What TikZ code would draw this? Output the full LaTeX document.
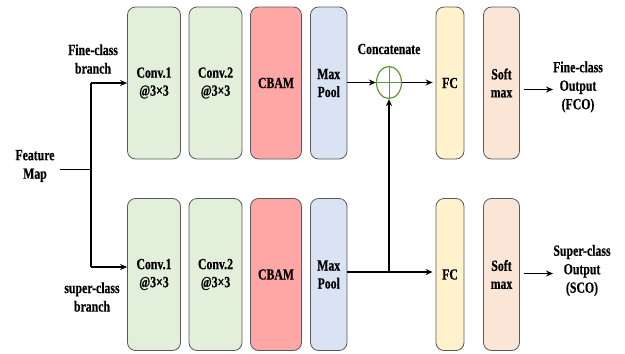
\documentclass[tikz,border=0pt]{standalone}
\usepackage{fontspec}
\setmainfont{Liberation Serif}[BoldFeatures={FakeStretch=0.76,FakeBold=0.5}]
\usetikzlibrary{arrows.meta,shapes.geometric}
\definecolor{convg}{HTML}{E2EFDA}
\definecolor{cbamr}{HTML}{FFA7A7}
\definecolor{poolb}{HTML}{DAE3F3}
\definecolor{fcy}{HTML}{FFF2CC}
\definecolor{smx}{HTML}{FBE5D6}
\definecolor{bord}{HTML}{595959}
\definecolor{catg}{HTML}{5E9A3C}
\tikzset{
  blk/.style={draw=bord, line width=0.8pt, rounded corners=8pt, inner sep=0pt,
    font=\fontsize{15.5}{18}\selectfont\bfseries, align=center},
  lbl/.style={font=\fontsize{15.5}{18.5}\selectfont\bfseries, align=center, inner sep=0pt},
  arr/.style={line width=1.8pt, -{Stealth[length=7pt,width=6pt]}},
  ln/.style={line width=1.8pt},
}
\begin{document}
\begin{tikzpicture}[x=1pt,y=-1pt]
\useasboundingbox (0,0) rectangle (625,354);
% top and bottom rows
\foreach \n/\xa/\xb/\c/\t in {c1/127.5/180.5/convg/{Conv.1\\@3×3}, c2/189/242/convg/{Conv.2\\@3×3}, cb/250.5/301.5/cbamr/CBAM, mp/310.5/347/poolb/{Max\\Pool}, fc/436/464/fcy/FC, sm/483.5/519.5/smx/{Soft\\max}}{
  \node[blk, fill=\c, minimum width={\xb-\xa}, minimum height=152] (t\n) at ({(\xa+\xb)/2},83) {\t};
  \node[blk, fill=\c, minimum width={\xb-\xa}, minimum height=152] (b\n) at ({(\xa+\xb)/2},274.5) {\t};
}
% concat
\node[ellipse, draw=catg, line width=1.2pt, fill=white, minimum width=25, minimum height=32, inner sep=0pt] (cat) at (389,82.5) {};
\draw[catg, line width=1pt] (cat.north) -- (cat.south) (cat.west) -- (cat.east);
\node[lbl] (catl) at (389,49) {Concatenate};
% labels
\node[lbl] (fm) at (35,166) {Feature\\Map};
\node[lbl] (fb) at (93,59) {Fine-class\\branch};
\node[lbl] (sb) at (92,297) {super-class\\branch};
\node[lbl] (fo) at (578,87) {Fine-class\\Output\\(FCO)};
\node[lbl] (so) at (582,270.5) {Super-class\\Output\\(SCO)};
% coordinates
\coordinate (fmr) at (60,169.5);
\coordinate (j) at (91,169.5);
\coordinate (jt) at (91,83);
\coordinate (jb) at (91,267);
\coordinate (bj) at (389,272);
% connectors
\draw[ln] (fmr) -- (j);
\draw[ln] (jt) -- (jb);
\draw[arr] (jt) -- (tc1.west |- jt);
\draw[arr] (jb) -- (bc1.west |- jb);
\draw[arr] (tmp.east |- cat) -- (cat.west);
\draw[arr] (cat.east) -- ([xshift=-3pt]tfc.west |- cat);
\draw[ln] (bmp.east |- bj) -- (bj);
\draw[arr] (bj) -- ([xshift=-3pt]bfc.west |- bj);
\draw[arr] (bj) -- (cat.south);
\draw[arr] ([xshift=4pt]tsm.east |- 0,89.5) -- (553,89.5);
\draw[arr] ([xshift=4pt]bsm.east |- 0,273.5) -- (553,273.5);
\end{tikzpicture}
\end{document}
